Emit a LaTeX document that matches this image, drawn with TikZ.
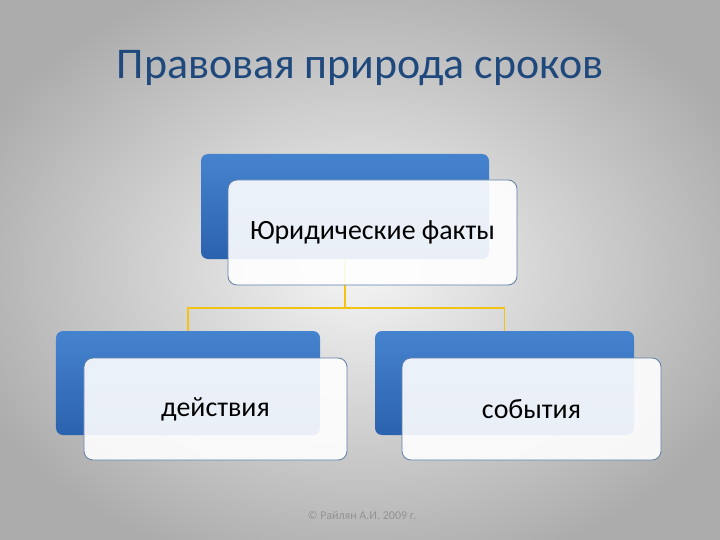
\documentclass[tikz,border=0pt]{standalone}
\usepackage{fontspec}
\setmainfont{Carlito}
\usetikzlibrary{positioning}
\definecolor{titleblue}{HTML}{1F497D}
\definecolor{boxtop}{HTML}{4683CF}
\definecolor{boxbot}{HTML}{2B62AE}
\definecolor{boxline}{HTML}{5E7FA8}
\definecolor{linkyellow}{HTML}{F2C314}
\tikzset{
  bluebox/.style={rounded corners=7bp, top color=boxtop, bottom color=boxbot, draw=none},
  whitebox/.style={rounded corners=9bp, draw=boxline, line width=0.8bp, fill=white, fill opacity=0.9, text opacity=1, font=\fontsize{28}{33}\selectfont},
  link/.style={draw=linkyellow, line width=1.8bp}
}
\begin{document}
\begin{tikzpicture}[x=1bp,y=-1bp]
  \useasboundingbox (0,0) rectangle (720,540);
  \shade[inner color=gray!8, outer color=gray!65] (-60,-40) rectangle (780,580);
  \node (title) at (360,68) [text=titleblue, font=\fontsize{44}{52}\selectfont] {Правовая природа сроков};
  % blue boxes
  \node (b0) at (345,206.5) [bluebox, minimum width=288bp, minimum height=105bp] {};
  \node (b1) at (188,383) [bluebox, minimum width=264bp, minimum height=104bp] {};
  \node (b2) at (504.5,383) [bluebox, minimum width=259bp, minimum height=104bp] {};
  % connectors
  \coordinate (m) at (345,308);
  \begin{scope}[link]
    \draw (b0.south) -- (m);
    \draw (m) -| (b1.north);
    \draw (m) -| (b2.north);
  \end{scope}
  % white boxes
  \node (0) at (372.5,232.5) [whitebox, minimum width=289bp, minimum height=105bp] {Юридические факты};
  \node (1) at (215.5,409) [whitebox, minimum width=263bp, minimum height=102bp] {действия};
  \node (2) at (531.5,409) [whitebox, minimum width=259bp, minimum height=102bp] {события};
  \node (foot) at (362,515) [text=gray!85, font=\fontsize{12}{14}\selectfont] {© Райлян А.И. 2009 г.};
\end{tikzpicture}
\end{document}
